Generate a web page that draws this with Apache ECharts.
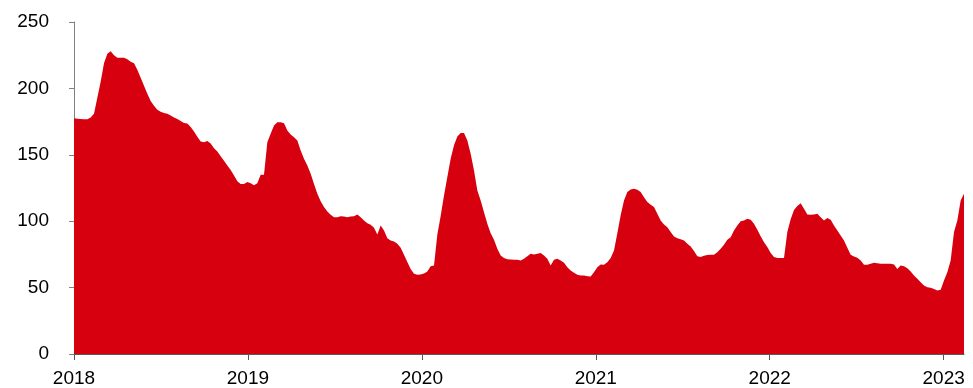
<!DOCTYPE html>
<html>
<head>
<meta charset="utf-8">
<script src="https://cdn.jsdelivr.net/npm/echarts@6/dist/echarts.min.js"></script>
<style>
  html, body { margin: 0; padding: 0; background: #fff; }
  #chart { width: 973px; height: 388px; }
</style>
</head>
<body>
<div id="chart"></div>
<script>
  // weekly series, first week starts at the beginning of 2018
  var startYear = 2018;
  var weekInYears = 7 / 365.25;
  var yearTicks = [2018, 2019, 2020, 2021, 2022, 2023];
  var yTicks = [0, 50, 100, 150, 200, 250];

  var values = [
    177.5, 177.2, 177, 176.8, 176.8, 178, 181, 193, 205, 219,
    226, 228, 225, 223, 223, 223, 222, 220, 219, 214,
    208, 202, 196, 190.5, 187, 184, 182.5, 181.5, 181, 179.5,
    178, 177, 175.5, 174, 173.5, 171, 167.5, 163.5, 160, 159.5,
    160.3, 158.5, 155, 152.5, 149, 145.5, 142, 138.5, 134.5, 130,
    128, 128, 129.5, 128.5, 127, 128.5, 135, 135, 159.5, 165.8,
    172, 174.6, 174.6, 173.8, 168.3, 165.3, 163.3, 160.8, 153.3, 147,
    142, 135.7, 128.1, 120.6, 115.1, 110.6, 107.3, 104.8, 103, 103,
    103.8, 103.5, 103, 103.5, 103.8, 105, 103, 100.5, 98.5, 97.3,
    95, 90, 96.8, 93, 87.2, 85.5, 84.7, 83, 80, 74.7,
    69.2, 64.1, 60.4, 59.6, 59.9, 60.6, 62.2, 66, 66.7, 90,
    104, 119.4, 133.2, 147, 157.1, 163.8, 166.4, 166.4, 160.8, 150.8,
    138.2, 123.2, 115.6, 106.8, 98, 91, 86, 79.2, 74.2, 72.2,
    71.4, 71.2, 70.9, 70.9, 70.4, 71.7, 73.7, 75.5, 75, 75.5,
    76, 74.2, 71.7, 66.7, 70.9, 71.7, 70.4, 68.7, 65.4, 62.9,
    61.1, 59.6, 59.1, 59.1, 58.6, 58.4, 61.6, 65.4, 67.4, 67.3,
    69, 72.3, 78, 91, 104.5, 115.6, 121.9, 123.9, 124.4, 123.7,
    121.9, 118.1, 114.4, 112.4, 110.6, 105.6, 100.5, 97.5, 95.5, 91.8,
    88.5, 87.2, 86.5, 85.5, 83, 81, 77.5, 73.7, 73, 74,
    74.5, 74.7, 74.7, 76.7, 79.2, 82.3, 86, 88, 93, 96.8,
    100, 100.5, 101.8, 101, 98, 93.5, 88.7, 84.2, 80.5, 76,
    73, 72.2, 72.2, 72.2, 91.8, 101.5, 108.5, 111.5, 113.6, 109.3,
    105, 104.8, 105, 105.6, 103, 100.5, 102.5, 101, 96.8, 93,
    89.2, 85.5, 80, 74.7, 73.5, 72.4, 70.4, 67.2, 67.2, 67.9,
    68.7, 68.4, 67.9, 67.9, 67.9, 67.9, 67.4, 64.1, 66.7, 66.1,
    64.6, 62.1, 59.1, 56.6, 54.1, 51.6, 50.3, 49.8, 49, 47.8,
    48.3, 55.3, 61.6, 70.4, 91.8, 100.5, 115.6, 120.6
  ];

  var seriesData = values.map(function (v, i) {
    return [startYear + i * weekInYears, v];
  });
  var lastX = seriesData[seriesData.length - 1][0];

  var chart = echarts.init(document.getElementById('chart'));
  chart.setOption({
    animation: false,
    grid: { left: 74, right: 9, top: 22, bottom: 34 },
    textStyle: { fontFamily: 'Liberation Sans, Arial, sans-serif' },
    xAxis: {
      type: 'value',
      min: startYear,
      max: lastX,
      splitLine: { show: false },
      axisLine: { show: true, onZero: false, lineStyle: { color: '#595959', width: 1 } },
      axisTick: { show: true, length: 6, customValues: yearTicks, lineStyle: { color: '#595959' } },
      axisLabel: {
        customValues: yearTicks,
        color: '#000',
        fontSize: 19,
        margin: 15,
        formatter: function (v) { return String(Math.round(v)); }
      }
    },
    yAxis: {
      type: 'value',
      min: 0,
      max: 250,
      interval: 50,
      splitLine: { show: false },
      axisLine: { show: true, lineStyle: { color: '#808080', width: 1 } },
      axisTick: { show: true, length: 5, lineStyle: { color: '#808080' } },
      axisLabel: { color: '#000', fontSize: 19, margin: 25 }
    },
    series: [{
      type: 'line',
      data: seriesData,
      showSymbol: false,
      symbol: 'none',
      lineStyle: { width: 0 },
      areaStyle: { color: '#D7000F', opacity: 1 },
      z: 1
    }]
  });
</script>
</body>
</html>
